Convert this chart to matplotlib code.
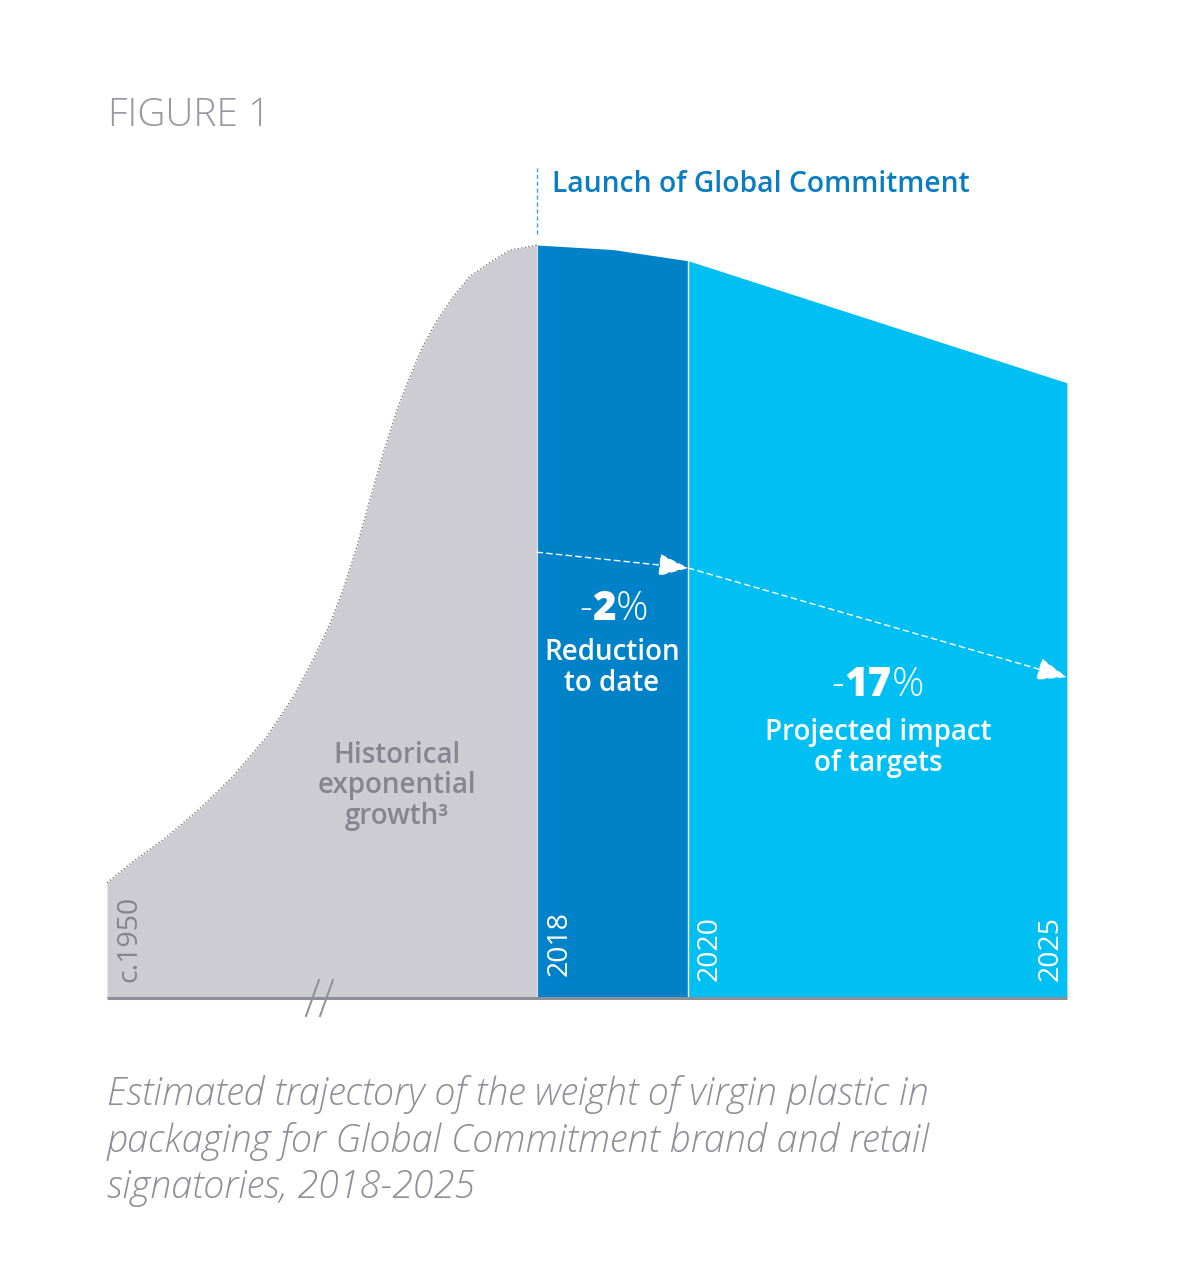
import matplotlib
matplotlib.use("Agg")
import matplotlib.pyplot as plt
import numpy as np

# ---------------- data ----------------
# Historical growth curve (compressed timeline, 2018 = 0; index 2018 = 100)
hist_x = [-5.68, -5.34, -4.89, -4.45, -4.02, -3.57, -3.22, -2.96, -2.73, -2.56, -2.38,
          -2.21, -2.03, -1.85, -1.68, -1.51, -1.32, -1.11, -0.89, -0.62, -0.36, 0.0]
hist_val = [15.3, 18.1, 21.4, 25.2, 29.4, 34.7, 40.0, 44.9, 49.8, 54.3, 59.9,
            66.1, 72.4, 78.1, 82.5, 86.5, 90.0, 93.1, 95.8, 97.7, 99.3, 100.0]
# Reduction to date 2018-2020
todate_years = [2018, 2019, 2020]
todate_val = [100.0, 99.4, 97.9]
# Projected impact of targets 2020-2025
proj_years = [2020, 2025]
proj_val = [97.9, 81.7]
reduction_label = "2"
projected_label = "17"
year_labels = ["c.1950", "2018", "2020", "2025"]
# dashed trend arrows (year, index)
arrow1 = [(2018, 59.2), (2020, 57.1)]
arrow2 = [(2020, 57.1), (2025, 42.6)]

# ---------------- style ----------------
W, H = 1188, 1274
GRAY_FILL = "#cdccd2"
GRAY_TXT = "#85848f"
DARK_BLUE = "#0082c8"
LIGHT_BLUE = "#00bff3"
LAUNCH_BLUE = "#0a7cc1"
FONT = ["Open Sans", "DejaVu Sans"]
plt.rcParams["font.family"] = FONT

fig = plt.figure(figsize=(W / 100, H / 100), dpi=100)
ax = fig.add_axes([0, 0, 1, 1])
ax.axis("off")

# map data -> pixel anchors (2018 at x=537px, 1 year=75.7px; baseline y=998px, 1 unit=7.53px)
X0, XS, Y0, YS = 537, 75.7, 998, 7.53
ax.set_xlim((0 - X0) / XS, (W - X0) / XS)
ax.set_ylim((Y0 - H) / YS, Y0 / YS)


def fx(px):
    return px / W


def fy(py):
    return 1 - py / H


# areas
ax.fill_between(hist_x, 0, hist_val, color=GRAY_FILL, lw=0, zorder=1)
ax.plot(hist_x, hist_val, color="#7e7d88", lw=1.0, ls=(0, (1, 1.6)), zorder=2)
tx = np.array(todate_years) - 2018
px_ = np.array(proj_years) - 2018
ax.fill_between(tx, 0, todate_val, color=DARK_BLUE, lw=0, zorder=1)
ax.fill_between(px_, 0, proj_val, color=LIGHT_BLUE, lw=0, zorder=1)
# separators
ax.plot([tx[0], tx[0]], [0, todate_val[0]], color="#d9e6f0", lw=0.8, zorder=3)
ax.plot([px_[0], px_[0]], [0, proj_val[0]], color="white", lw=1.0, zorder=3)

# baseline
ax.plot([hist_x[0], px_[-1]], [0, 0], color="#8e8e98", lw=2.2, zorder=4,
        solid_capstyle="butt")
# axis break marks
for x0 in (306, 320):
    ax.plot([(x0 - X0) / XS, (x0 + 13 - X0) / XS],
            [(Y0 - 1016) / YS, (Y0 - 980) / YS], color="#8e8e98", lw=1.4, zorder=5)

# launch dashed line
ax.plot([0, 0], [(Y0 - 234) / YS, (Y0 - 168) / YS], color="#3ba0dc", lw=1.0,
        ls=(0, (3, 2)), zorder=5)

# trend arrows
for (a, b) in (arrow1, arrow2):
    ax.annotate("", xy=(b[0] - 2018, b[1]), xytext=(a[0] - 2018, a[1]),
                arrowprops=dict(arrowstyle="-|>,head_length=1.0,head_width=0.38",
                                color="white", lw=1.0, ls=(0, (4, 3)),
                                mutation_scale=19, shrinkA=0, shrinkB=0),
                zorder=6)

# year labels
ylab_x = [129, 560, 710, 1051]
ylab_b = [982, 976, 981, 981]
ylab_c = [GRAY_TXT, "white", "white", "white"]
for lab, xp, yb, c in zip(year_labels, ylab_x, ylab_b, ylab_c):
    fig.text(fx(xp), fy(yb), lab, rotation=90, ha="center", va="bottom",
             color=c, fontsize=20.5, fontweight="medium")

# titles
fig.text(fx(108), fy(116), "FIGURE 1", ha="left", va="center",
         color="#9897a2", fontsize=28, fontweight="light")
fig.text(fx(552), fy(184), "Launch of Global Commitment", ha="left", va="center",
         color=LAUNCH_BLUE, fontsize=20.3, fontweight="semibold")

# in-chart texts
fig.text(fx(397), fy(786), "Historical\nexponential\ngrowth\u00b3", ha="center",
         va="center", color=GRAY_TXT, fontsize=20, fontweight="semibold",
         linespacing=1.08)
fig.text(fx(612), fy(668), "Reduction\nto date", ha="center", va="center",
         color="white", fontsize=20, fontweight="semibold", linespacing=1.08)
fig.text(fx(878), fy(748), "Projected impact\nof targets", ha="center",
         va="center", color="white", fontsize=20, fontweight="semibold",
         linespacing=1.08)


def big_pct(xp, yp, num):
    t = fig.text(fx(xp), fy(yp), num, ha="center", va="center", color="white",
                 fontsize=29, fontweight="heavy")
    ax.annotate("-", xy=(0, 0.5), xycoords=t, ha="right", va="center",
                color="white", fontsize=29, fontweight="light")
    ax.annotate("%", xy=(1, 0.5), xycoords=t, ha="left", va="center",
                color="white", fontsize=29, fontweight="light")


big_pct(604, 609, reduction_label)
big_pct(868, 686, projected_label)

# caption
caption = ("Estimated trajectory of the weight of virgin plastic in\n"
           "packaging for Global Commitment brand and retail\n"
           "signatories, 2018-2025")
fig.text(fx(107), fy(1141), caption, ha="left", va="center", color="#8e8e98",
         fontsize=27.2, style="italic", fontweight="light", linespacing=1.25)

fig.savefig("out.png", dpi=100, facecolor="white")
